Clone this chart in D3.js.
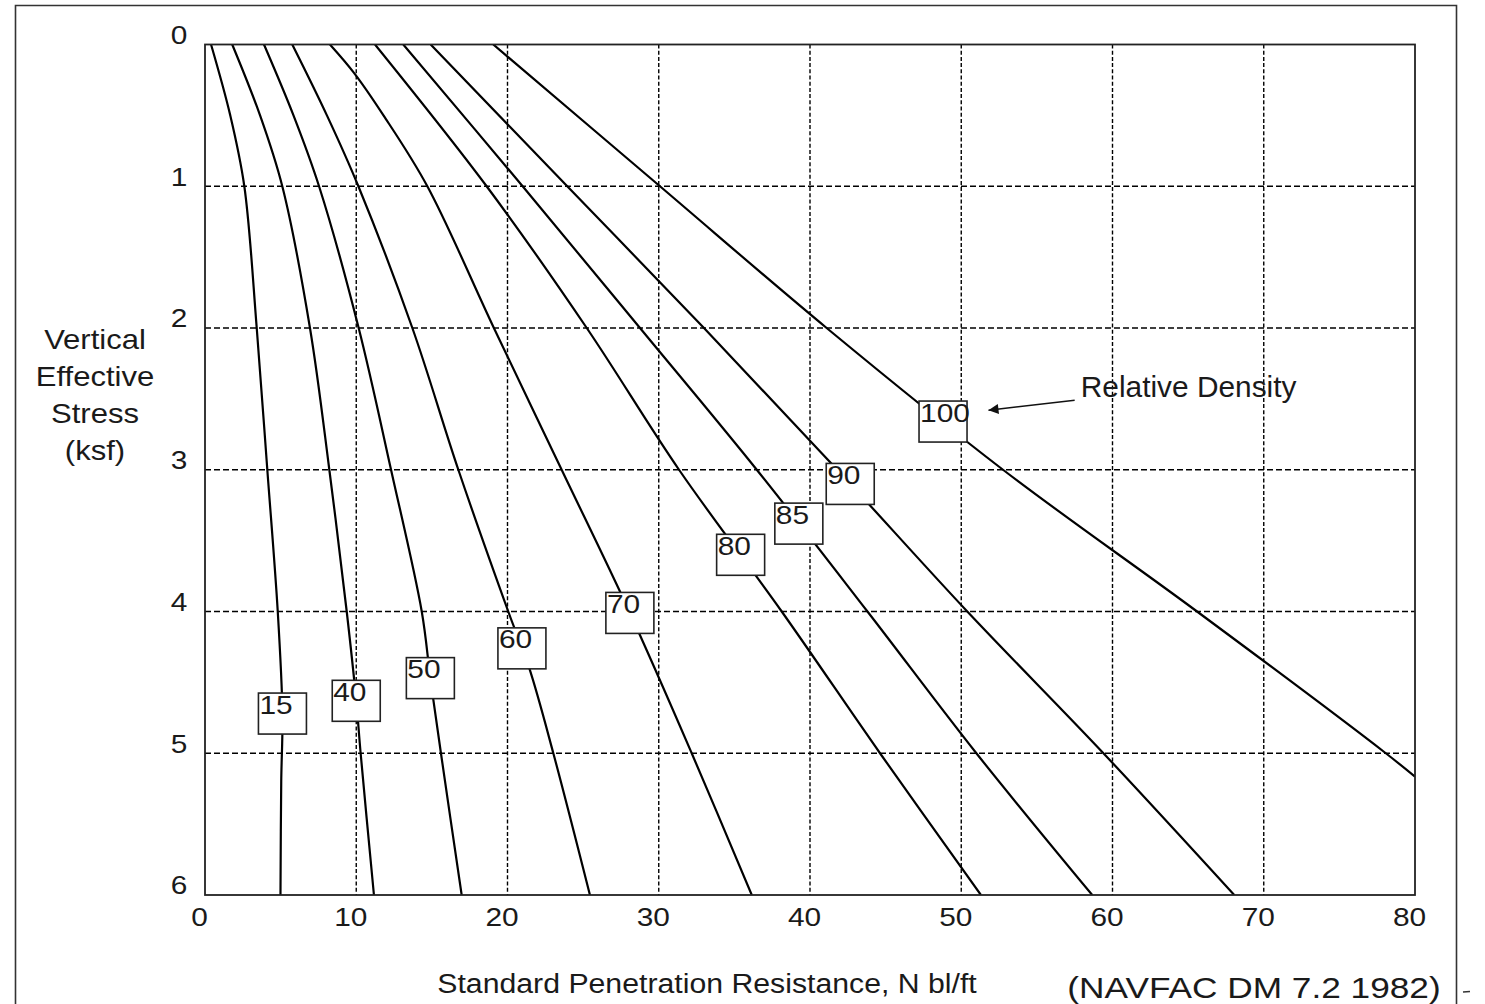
<!DOCTYPE html>
<html>
<head>
<meta charset="utf-8">
<script src="https://cdn.jsdelivr.net/npm/d3@7"></script>
<style>
  html, body { margin: 0; padding: 0; background: #fff; }
  svg { display: block; }
  text { font-family: "Liberation Sans", Arial, Helvetica, sans-serif; fill: #1a1a1a; }
</style>
</head>
<body>
<svg id="chart" width="1485" height="1004"></svg>
<script>
// Relative density (%) of each curve, in drawing order
const densities = [15, 40, 50, 60, 70, 80, 85, 90, 100];

// Curve points as [vertical effective stress (ksf), N (blows/ft)]
const curve15  = [[0,0.4],[0.5,1.67],[1,2.6],[2,3.42],[3,4.12],[4,4.81],[4.72,5.12],[5.2,5.04],[6,4.99]];
const curve40  = [[0,1.8],[0.5,3.64],[1,5.11],[2,6.94],[3,8.22],[4,9.37],[4.63,10.0],[5,10.29],[6,11.17]];
const curve50  = [[0,3.9],[0.5,5.85],[1,7.54],[2,10.16],[3,12.3],[4,14.33],[4.47,14.9],[5,15.6],[6,16.97]];
const curve60  = [[0,5.77],[0.5,8.06],[1,10.14],[2,13.71],[3,16.75],[4,20.05],[4.4,21.44],[5,23.03],[6,25.45]];
const curve70  = [[0,8.26],[0.2,9.85],[0.5,11.8],[1,14.7],[2,19.1],[3,23.58],[4,28.05],[5,32.18],[6,36.15]];
const curve80  = [[0,11.24],[1,18.62],[2,25.24],[3,31.34],[4,38.13],[5,44.63],[6,51.3]];
const curve85  = [[0,13.11],[1,21.0],[2,28.76],[3,36.48],[4,43.8],[5,51.0],[6,58.66]];
const curve90  = [[0,14.92],[1,23.95],[2,32.99],[3,41.8],[4,50.4],[5,59.4],[6,68.05]];
const curve100 = [[0,19.06],[1,30.08],[2,41.1],[3,52.76],[4,65.59],[5,78.07],[5.165,80]];

const curves = [curve15, curve40, curve50, curve60, curve70, curve80, curve85, curve90, curve100];

// Stress at which each density label box sits on its curve
const labelStress = [4.72, 4.63, 4.47, 4.26, 4.01, 3.60, 3.38, 3.10, 2.66];

// Axis ticks
const xTicks = [0, 10, 20, 30, 40, 50, 60, 70, 80];
const yTicks = [0, 1, 2, 3, 4, 5, 6];

// Annotation in data units [stress, N]
const noteText = "Relative Density";
const noteAt = [2.49, 57.9];
const noteArrowFrom = [2.51, 57.5];
const noteArrowTo = [2.58, 51.8];

const yTitleLines = ["Vertical", "Effective", "Stress", "(ksf)"];
const xTitle = "Standard Penetration Resistance, N bl/ft";
const sourceText = "(NAVFAC DM 7.2 1982)";

// ---------------------------------------------------------------------------
const W = 1485, H = 1004;
const plot = { left: 205, right: 1415, top: 44.5, bottom: 895 };
const STRETCH = 1.17;   // the figure's lettering is set slightly wide

const svg = d3.select("#chart");
const x = d3.scaleLinear().domain([0, 80]).range([plot.left, plot.right]);
const y = d3.scaleLinear().domain([0, 6]).range([plot.top, plot.bottom]);

// Outer frame of the figure
const frame = svg.append("g").attr("stroke", "#333").attr("stroke-width", 1.6).attr("fill", "none");
frame.append("path").attr("d", `M15.5,${H} V5.5 H1456.5 V${H}`);
frame.append("line").attr("x1", 1463).attr("x2", 1470).attr("y1", 992).attr("y2", 991.5).attr("stroke-width", 1.4);

// Dashed grid
const grid = svg.append("g").attr("stroke", "#000").attr("stroke-width", 1.4).attr("fill", "none");
grid.selectAll("line.v").data(xTicks.slice(1, -1)).join("line")
  .attr("class", "v")
  .attr("x1", d => x(d)).attr("x2", d => x(d))
  .attr("y1", plot.top).attr("y2", plot.bottom)
  .attr("stroke-dasharray", "4,2.2");
grid.selectAll("line.h").data(yTicks.slice(1, -1)).join("line")
  .attr("class", "h")
  .attr("x1", plot.left).attr("x2", plot.right)
  .attr("y1", d => y(d)).attr("y2", d => y(d))
  .attr("stroke-dasharray", "6,3");

// Curves
svg.append("clipPath").attr("id", "plotClip")
  .append("rect").attr("x", plot.left).attr("y", plot.top)
  .attr("width", plot.right - plot.left).attr("height", plot.bottom - plot.top);

const line = d3.line()
  .x(d => x(d[1]))
  .y(d => y(d[0]))
  .curve(d3.curveCatmullRom.alpha(0.5));

svg.append("g").attr("clip-path", "url(#plotClip)")
  .selectAll("path").data(curves).join("path")
  .attr("d", line)
  .attr("fill", "none")
  .attr("stroke", "#000")
  .attr("stroke-width", 2.2);

// Plot border
svg.append("rect")
  .attr("x", plot.left).attr("y", plot.top)
  .attr("width", plot.right - plot.left).attr("height", plot.bottom - plot.top)
  .attr("fill", "none").attr("stroke", "#222").attr("stroke-width", 1.8);

// Density label boxes, centred on their curves
function nAtStress(pts, s) {
  for (let i = 1; i < pts.length; i++) {
    if (s <= pts[i][0]) {
      const t = (s - pts[i - 1][0]) / (pts[i][0] - pts[i - 1][0]);
      return pts[i - 1][1] + t * (pts[i][1] - pts[i - 1][1]);
    }
  }
  return pts[pts.length - 1][1];
}
const boxW = 48, boxH = 41;
const labels = svg.append("g").selectAll("g").data(densities).join("g")
  .attr("transform", (d, i) => {
    const cx = x(nAtStress(curves[i], labelStress[i]));
    const cy = y(labelStress[i]);
    return `translate(${cx - boxW / 2},${cy - boxH / 2})`;
  });
labels.append("rect")
  .attr("width", boxW).attr("height", boxH)
  .attr("fill", "#fff").attr("stroke", "#222").attr("stroke-width", 1.6);
labels.append("text")
  .attr("transform", `translate(1,20.5) scale(${1.15},1)`)
  .attr("font-size", 26)
  .text(d => d);

// Axes (labels only; the border is drawn above)
const xAxis = svg.append("g").attr("transform", `translate(0,${plot.bottom})`)
  .call(d3.axisBottom(x).tickValues(xTicks).tickSize(0).tickFormat(d3.format("d")));
xAxis.select(".domain").remove();
xAxis.selectAll("text")
  .attr("x", 0).attr("y", 22).attr("dy", "0.35em")
  .attr("text-anchor", "middle")
  .attr("font-size", 25.5)
  .attr("font-family", null)
  .attr("fill", "#1a1a1a")
  .attr("transform", `translate(-6,0) scale(${STRETCH},1)`);

const yAxis = svg.append("g").attr("transform", `translate(${plot.left},0)`)
  .call(d3.axisLeft(y).tickValues(yTicks).tickSize(0).tickFormat(d3.format("d")));
yAxis.select(".domain").remove();
yAxis.selectAll("text")
  .attr("x", 0).attr("y", -10).attr("dy", "0.35em")
  .attr("text-anchor", "middle")
  .attr("font-size", 25.5)
  .attr("font-family", null)
  .attr("fill", "#1a1a1a")
  .attr("transform", `translate(-26,0) scale(${STRETCH},1)`);

// Axis titles
svg.append("g").selectAll("text").data(yTitleLines).join("text")
  .attr("transform", (d, i) => `translate(95,${349 + i * 37}) scale(1.15,1)`)
  .attr("text-anchor", "middle")
  .attr("font-size", 27)
  .text(d => d);

svg.append("text")
  .attr("transform", `translate(707,993) scale(1.12,1)`)
  .attr("text-anchor", "middle")
  .attr("font-size", 27)
  .text(xTitle);

svg.append("text")
  .attr("transform", `translate(1254,998) scale(1.175,1)`)
  .attr("text-anchor", "middle")
  .attr("font-size", 30)
  .text(sourceText);

// Relative density annotation with arrow
svg.append("defs").append("marker")
  .attr("id", "arrowHead")
  .attr("viewBox", "0 0 10 10").attr("refX", 10).attr("refY", 5)
  .attr("markerUnits", "userSpaceOnUse")
  .attr("markerWidth", 15).attr("markerHeight", 10)
  .attr("orient", "auto")
  .append("path").attr("d", "M0,0 L10,5 L0,10 Z").attr("fill", "#111");

svg.append("line")
  .attr("x1", x(noteArrowFrom[1])).attr("y1", y(noteArrowFrom[0]))
  .attr("x2", x(noteArrowTo[1])).attr("y2", y(noteArrowTo[0]))
  .attr("stroke", "#111").attr("stroke-width", 1.6)
  .attr("marker-end", "url(#arrowHead)");

svg.append("text")
  .attr("transform", `translate(${x(noteAt[1])},${y(noteAt[0])}) scale(1.03,1)`)
  .attr("font-size", 29)
  .text(noteText);
</script>
</body>
</html>
